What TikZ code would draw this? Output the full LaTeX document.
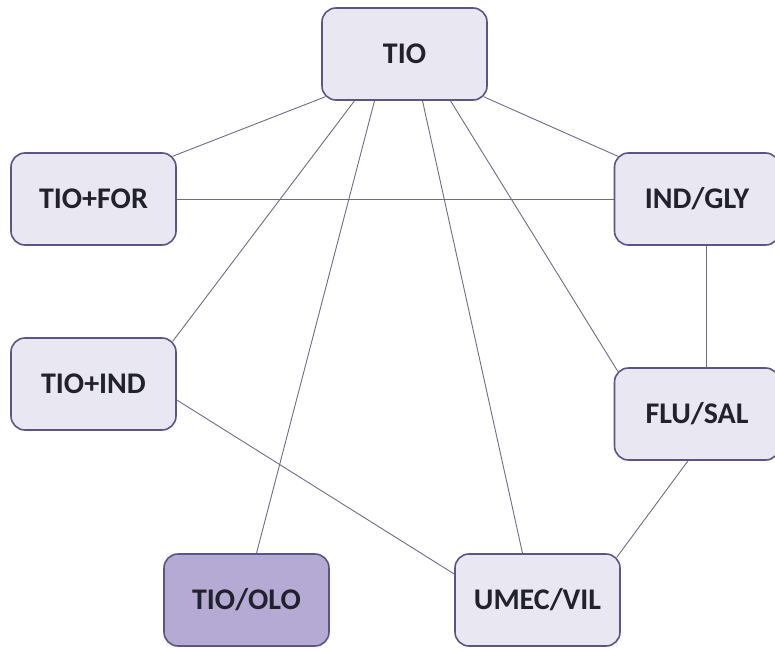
\documentclass[tikz,border=0pt]{standalone}
\usepackage{fontspec}
\setmainfont{Carlito}
\definecolor{boxdraw}{HTML}{5B5585}
\definecolor{boxfill}{HTML}{E9E7F1}
\definecolor{hifill}{HTML}{B4AAD4}
\definecolor{linkcol}{HTML}{6E6A88}
\definecolor{txtcol}{HTML}{22222E}
\begin{document}
\begin{tikzpicture}[x=1pt,y=-1pt,
  drug/.style={draw=boxdraw, line width=1.6pt, fill=boxfill, rounded corners=14pt,
    minimum width=165pt, minimum height=92pt, inner sep=0pt,
    font=\fontsize{30}{34}\selectfont\bfseries, text=txtcol},
  hidrug/.style={drug, fill=hifill},
  link/.style={draw=linkcol, line width=0.9pt}]
\useasboundingbox (0,0) rectangle (775,650);
\node[drug] (tio) at (404.5,54) {TIO};
\node[drug] (tiofor) at (93.5,199) {TIO+FOR};
\node[drug] (indgly) at (697,199) {IND/GLY};
\node[drug] (tioind) at (93.5,384) {TIO+IND};
\node[drug] (flusal) at (697,414) {FLU/SAL};
\node[hidrug] (tioolo) at (246.5,600) {TIO/OLO};
\node[drug] (umec) at (537.5,600) {UMEC/VIL};
\path[link] ([xshift=4pt,yshift=4pt]tio.south west) -- ([xshift=-4pt,yshift=-4pt]tiofor.north east);
\path[link] (tiofor.east) -- (indgly.west);
\path[link] ([xshift=-4pt,yshift=4pt]tio.south east) -- ([xshift=4pt,yshift=-4pt]indgly.north west);
\path[link] ([xshift=-50pt]tio.south) -- ([xshift=-4pt,yshift=-4pt]tioind.north east);
\path[link] ([xshift=-30pt]tio.south) -- ([xshift=10pt]tioolo.north);
\path[link] ([xshift=18pt]tio.south) -- ([xshift=-15pt]umec.north);
\path[link] ([xshift=46pt]tio.south) -- ([xshift=4pt,yshift=-4pt]flusal.north west);
\path[link] ([xshift=9pt]indgly.south) -- ([xshift=9pt]flusal.north);
\path[link] ([yshift=-16pt]tioind.east) -- ([yshift=26pt]umec.west);
\path[link] ([xshift=-9pt]flusal.south) -- ([xshift=-4pt,yshift=-4pt]umec.north east);
\end{tikzpicture}
\end{document}
